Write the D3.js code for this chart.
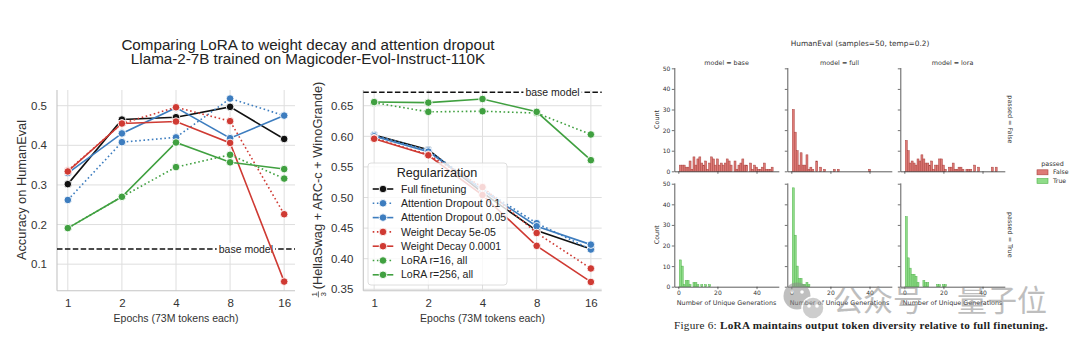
<!DOCTYPE html>
<html>
<head>
<meta charset="utf-8">
<script src="https://cdn.jsdelivr.net/npm/d3@7"></script>
<style>
  body { margin: 0; background: #fff; }
</style>
</head>
<body>
<svg id="fig" width="1080" height="344"></svg>
<script>
const epochs = [1, 2, 4, 8, 16];
const runNames = ["Full finetuning", "Attention Dropout 0.1", "Attention Dropout 0.05",
  "Weight Decay 5e-05", "Weight Decay 0.0001", "LoRA r=16, all", "LoRA r=256, all"];
const runColors = ["#111111", "#3d7dbf", "#3d7dbf", "#cf3a33", "#cf3a33", "#40a040", "#40a040"];
const runDotted = [false, true, false, true, false, true, false];

// HumanEval accuracy per epoch
const heFull     = [0.302, 0.465, 0.471, 0.497, 0.416];
const heAttn01   = [0.262, 0.408, 0.420, 0.518, 0.475];
const heAttn005  = [0.330, 0.430, 0.495, 0.418, 0.475];
const heWd5e5    = [0.336, 0.455, 0.496, 0.461, 0.226];
const heWd1e4    = [0.334, 0.455, 0.460, 0.406, 0.056];
const heLora16   = [0.191, 0.270, 0.345, 0.376, 0.316];
const heLora256  = [0.191, 0.270, 0.407, 0.357, 0.340];
const heBase = 0.138;
const heTicks = [0.1, 0.2, 0.3, 0.4, 0.5];

// mean of HellaSwag, ARC-c and WinoGrande per epoch
const avgFull    = [0.602, 0.578, 0.508, 0.446, 0.416];
const avgAttn01  = [0.602, 0.577, 0.514, 0.458, 0.415];
const avgAttn005 = [0.600, 0.575, 0.512, 0.453, 0.423];
const avgWd5e5   = [0.597, 0.570, 0.517, 0.442, 0.384];
const avgWd1e4   = [0.596, 0.569, 0.504, 0.421, 0.362];
const avgLora16  = [0.655, 0.640, 0.641, 0.638, 0.603];
const avgLora256 = [0.656, 0.655, 0.661, 0.640, 0.561];
const avgBase = 0.672;
const avgTicks = [0.35, 0.40, 0.45, 0.50, 0.55, 0.60, 0.65];

// unique-generation histograms, index 0 = 1 unique generation
const baseFalse = [3,3,3,2,2,5,1,7,3,6,7,4,3,5,1,4,7,6,3,6,3,4,3,4,6,5,3,0,5,1,3,4,6,3,3,0,4,1,3,2,1,1,2,4,1,1,1,2];
const fullFalse = [30,19,10,3,9,3,3,8,1,2,1,0,5,0,2,0,1,0,0,0,0,1,0,1,0,0,0,0,0,0,0,0,0,0,0,0,0,0,0,1];
const loraFalse = [15,10,4,5,4,3,6,5,8,6,4,4,3,5,1,3,3,6,6,3,1,0,2,2,4,1,1,2,2,1,0,1,1,1,0,3,0,2,0,0,0,0,0,0,2,0,2];
const baseTrue  = [13,10,1,3,3,1,0,2,2,1,0,1,0,1,0,1];
const fullTrue  = [48,25,10,4,4,1,1,2,1];
const loraTrue  = [34,14,9,6,6,5,2,0,0,3,2,2,0,0,0,0,1,1,0,1,1];
const modelNames = ["base", "full", "lora"];
const passedNames = ["False", "True"];
const histTicksY = [0, 10, 20, 30, 40, 50];
const histTicksX = [0, 20, 40];

const svg = d3.select("#fig");
const sans = "'Liberation Sans', Arial, sans-serif";
const dejavu = "'DejaVu Sans', sans-serif";

function lineChart(cfg) {
  const g = svg.append("g");
  const x = d3.scaleLog().base(2)
    .domain([Math.pow(2, -0.2), Math.pow(2, 4.2)])
    .range([cfg.left, cfg.right]);
  const y = d3.scaleLinear().domain(cfg.yDomain).range([cfg.bottom, cfg.top]);

  // grid
  g.selectAll(".vgrid").data(epochs).join("line")
    .attr("x1", d => x(d)).attr("x2", d => x(d))
    .attr("y1", cfg.top).attr("y2", cfg.bottom)
    .attr("stroke", "#dedede").attr("stroke-width", 1);
  g.selectAll(".hgrid").data(cfg.ticks).join("line")
    .attr("x1", cfg.left).attr("x2", cfg.right)
    .attr("y1", d => y(d)).attr("y2", d => y(d))
    .attr("stroke", "#dedede").attr("stroke-width", 1);

  g.append("line").attr("x1", cfg.left).attr("x2", cfg.left)
    .attr("y1", cfg.top).attr("y2", cfg.bottom).attr("stroke", "#c4c4c4").attr("stroke-width", 1.1);
  g.append("line").attr("x1", cfg.left).attr("x2", cfg.right)
    .attr("y1", cfg.bottom).attr("y2", cfg.bottom).attr("stroke", "#c4c4c4").attr("stroke-width", 1.1);

  const ay = g.append("g").attr("transform", `translate(${cfg.left},0)`)
    .call(d3.axisLeft(y).tickValues(cfg.ticks).tickFormat(cfg.fmt).tickSize(0).tickPadding(10));
  ay.select(".domain").remove();
  ay.selectAll("text").attr("font-family", sans).attr("font-size", 11.5).attr("fill", "#333");

  const ax = g.append("g").attr("transform", `translate(0,${cfg.bottom})`)
    .call(d3.axisBottom(x).tickValues(epochs).tickFormat(d3.format("d")).tickSize(0).tickPadding(8));
  ax.select(".domain").remove();
  ax.selectAll("text").attr("font-family", sans).attr("font-size", 11.5).attr("fill", "#333");

  g.append("text")
    .attr("x", (cfg.left + cfg.right) / 2).attr("y", cfg.bottom + 31)
    .attr("text-anchor", "middle").attr("font-family", sans).attr("font-size", 10.5)
    .attr("fill", "#333").text("Epochs (73M tokens each)");

  // base model reference
  g.append("line").attr("x1", cfg.left).attr("x2", cfg.right)
    .attr("y1", y(cfg.base)).attr("y2", y(cfg.base))
    .attr("stroke", "#111").attr("stroke-width", 1.5).attr("stroke-dasharray", "5.5,2.4");
  const bg = g.append("g");
  const bgRect = bg.append("rect").attr("fill", "#fff");
  const bl = bg.append("text")
    .attr("x", cfg.right - 22).attr("y", y(cfg.base))
    .attr("dy", "0.35em").attr("text-anchor", "end")
    .attr("font-family", sans).attr("font-size", 10.5).attr("fill", "#222")
    .text("base model");
  const bb = bl.node().getBBox();
  bgRect.attr("x", bb.x - 2).attr("y", bb.y).attr("width", bb.width + 4).attr("height", bb.height);

  const line = d3.line().x((d, i) => x(epochs[i])).y(d => y(d));
  cfg.runs.forEach((vals, k) => {
    g.append("path").attr("d", line(vals)).attr("fill", "none")
      .attr("stroke", runColors[k]).attr("stroke-width", 1.6)
      .attr("stroke-dasharray", runDotted[k] ? "1.6,2.6" : null);
    g.append("g").selectAll("circle").data(vals).join("circle")
      .attr("cx", (d, i) => x(epochs[i])).attr("cy", d => y(d)).attr("r", 3.8)
      .attr("fill", runColors[k]).attr("stroke", "#fff").attr("stroke-width", 0.9);
  });
  return g;
}

lineChart({
  left: 57, right: 295, top: 90, bottom: 290.7,
  yDomain: [0.033, 0.5396], ticks: heTicks, fmt: d3.format(".1f"), base: heBase,
  runs: [heFull, heAttn01, heAttn005, heWd5e5, heWd1e4, heLora16, heLora256]
});
lineChart({
  left: 363.3, right: 601.7, top: 90, bottom: 290.7,
  yDomain: [0.3477, 0.6757], ticks: avgTicks, fmt: d3.format(".2f"), base: avgBase,
  runs: [avgFull, avgAttn01, avgAttn005, avgWd5e5, avgWd1e4, avgLora16, avgLora256]
});

// title
svg.append("text").attr("x", 308).attr("y", 50).attr("text-anchor", "middle")
  .attr("font-family", sans).attr("font-size", 15.2).attr("fill", "#222")
  .text("Comparing LoRA to weight decay and attention dropout");
svg.append("text").attr("x", 308).attr("y", 63.5).attr("text-anchor", "middle")
  .attr("font-family", sans).attr("font-size", 15.2).attr("fill", "#222")
  .text("Llama-2-7B trained on Magicoder-Evol-Instruct-110K");

// y labels
svg.append("text").attr("transform", "translate(26,190) rotate(-90)")
  .attr("text-anchor", "middle").attr("font-family", sans).attr("font-size", 12.8)
  .attr("fill", "#333").text("Accuracy on HumanEval");

const yl = svg.append("g").attr("transform", "translate(322,190) rotate(-90)")
  .attr("font-family", sans).attr("fill", "#333");
const ylMain = yl.append("text").attr("font-size", 12.8).attr("y", 0)
  .text("(HellaSwag + ARC-c + WinoGrande)");
const mainW = ylMain.node().getComputedTextLength();
const fracW = 8;
const start = -(mainW + fracW + 1) / 2;
ylMain.attr("x", start + fracW + 1);
yl.append("text").attr("x", start + fracW / 2).attr("y", -5).attr("text-anchor", "middle")
  .attr("font-size", 8).text("1");
yl.append("text").attr("x", start + fracW / 2).attr("y", 4).attr("text-anchor", "middle")
  .attr("font-size", 8).text("3");
yl.append("line").attr("x1", start + 1).attr("x2", start + fracW - 1)
  .attr("y1", -3.6).attr("y2", -3.6).attr("stroke", "#333").attr("stroke-width", 0.7);

// legend on the benchmark panel
const lg = svg.append("g");
lg.append("rect").attr("x", 368).attr("y", 163).attr("width", 139).attr("height", 122)
  .attr("rx", 3).attr("fill", "#fff").attr("fill-opacity", 0.8)
  .attr("stroke", "#d6d6d6").attr("stroke-width", 0.8);
lg.append("text").attr("x", 437).attr("y", 177).attr("text-anchor", "middle")
  .attr("font-family", sans).attr("font-size", 12.6).attr("fill", "#222").text("Regularization");
runNames.forEach((name, k) => {
  const yy = 189 + k * 14.3;
  lg.append("line").attr("x1", 372.7).attr("x2", 393.3).attr("y1", yy).attr("y2", yy)
    .attr("stroke", runColors[k]).attr("stroke-width", 1.6)
    .attr("stroke-dasharray", runDotted[k] ? "1.6,2.6" : null);
  lg.append("circle").attr("cx", 383).attr("cy", yy).attr("r", 3.8)
    .attr("fill", runColors[k]).attr("stroke", "#fff").attr("stroke-width", 0.9);
  lg.append("text").attr("x", 401).attr("y", yy).attr("dy", "0.35em")
    .attr("font-family", sans).attr("font-size", 10.5).attr("fill", "#222").text(name);
});

// facet grid of histograms
const histCounts = [[baseFalse, fullFalse, loraFalse], [baseTrue, fullTrue, loraTrue]];
const histFill = ["#de7a76", "#8fdc89"];
const histEdge = ["#a9423e", "#52b34c"];
const colX0 = [674.3, 787.3, 900.3];
const colW = 104.5;
const rowBottom = [171.3, 286.7];
const rowH = 103.8;

histCounts.forEach((row, r) => {
  row.forEach((counts, c) => {
    const x0 = colX0[c];
    const hx = d3.scaleLinear().domain([-2.06, 51.4]).range([x0, x0 + colW]);
    const hy = d3.scaleLinear().domain([0, 50.4]).range([rowBottom[r], rowBottom[r] - rowH]);
    const g = svg.append("g");
    const bins = counts.map((n, i) => ({ v: i + 1, n })).filter(d => d.n > 0);
    g.selectAll("rect").data(bins).join("rect")
      .attr("x", d => hx(d.v - 0.5)).attr("width", d => hx(d.v + 0.5) - hx(d.v - 0.5))
      .attr("y", d => hy(d.n)).attr("height", d => hy(0) - hy(d.n))
      .attr("fill", histFill[r]).attr("stroke", histEdge[r]).attr("stroke-width", 0.5);

    const ay = g.append("g").attr("transform", `translate(${x0},0)`)
      .call(d3.axisLeft(hy).tickValues(histTicksY).tickSizeInner(2.5).tickSizeOuter(0).tickPadding(1.5)
        .tickFormat(c === 0 ? d3.format("d") : () => ""));
    const ax = g.append("g").attr("transform", `translate(0,${rowBottom[r]})`)
      .call(d3.axisBottom(hx).tickValues(histTicksX).tickSizeInner(2.5).tickSizeOuter(0).tickPadding(1.5)
        .tickFormat(r === 1 ? d3.format("d") : () => ""));
    [ay, ax].forEach(a => {
      a.select(".domain").attr("stroke", "#333").attr("stroke-width", 0.8);
      a.selectAll(".tick line").attr("stroke", "#333").attr("stroke-width", 0.7);
      a.selectAll("text").attr("font-family", dejavu).attr("font-size", 6).attr("fill", "#333");
    });

    if (r === 0) {
      svg.append("text").attr("x", x0 + colW / 2).attr("y", 64.5).attr("text-anchor", "middle")
        .attr("font-family", dejavu).attr("font-size", 6.4).attr("fill", "#333")
        .text("model = " + modelNames[c]);
    } else {
      svg.append("text").attr("x", x0 + colW / 2).attr("y", 304.5).attr("text-anchor", "middle")
        .attr("font-family", dejavu).attr("font-size", 6.4).attr("fill", "#333")
        .text("Number of Unique Generations");
    }
  });
  const midY = rowBottom[r] - rowH / 2;
  svg.append("text").attr("transform", `translate(657,${midY}) rotate(-90)`)
    .attr("text-anchor", "middle").attr("dy", "0.35em")
    .attr("font-family", dejavu).attr("font-size", 6.4).attr("fill", "#333").text("Count");
  svg.append("text").attr("transform", `translate(1010,${midY}) rotate(90)`)
    .attr("text-anchor", "middle").attr("dy", "0.35em")
    .attr("font-family", dejavu).attr("font-size", 6.4).attr("fill", "#333")
    .text("passed = " + passedNames[r]);
});

svg.append("text").attr("x", 860).attr("y", 46).attr("text-anchor", "middle")
  .attr("font-family", dejavu).attr("font-size", 7.4).attr("fill", "#333")
  .text("HumanEval (samples=50, temp=0.2)");

// hue legend
svg.append("text").attr("x", 1052.5).attr("y", 166).attr("text-anchor", "middle")
  .attr("font-family", dejavu).attr("font-size", 6.4).attr("fill", "#333").text("passed");
passedNames.forEach((p, k) => {
  const yy = 172.3 + k * 8.7;
  svg.append("rect").attr("x", 1037).attr("y", yy - 2.5).attr("width", 11).attr("height", 5)
    .attr("fill", histFill[k]).attr("stroke", histEdge[k]).attr("stroke-width", 0.6);
  svg.append("text").attr("x", 1053).attr("y", yy).attr("dy", "0.35em")
    .attr("font-family", dejavu).attr("font-size", 6.2).attr("fill", "#333").text(p);
});

// caption
const cap = svg.append("text").attr("x", 861).attr("y", 328.5).attr("text-anchor", "middle")
  .attr("font-family", "'Liberation Serif', 'DejaVu Serif', serif").attr("font-size", 11.2)
  .attr("letter-spacing", 0.25).attr("fill", "#222");
cap.append("tspan").text("Figure 6: ");
cap.append("tspan").attr("font-weight", "bold")
  .text("LoRA maintains output token diversity relative to full finetuning.");

// account watermark
const wm = svg.append("g").attr("opacity", 0.55);
wm.append("circle").attr("cx", 797).attr("cy", 296).attr("r", 13.5).attr("fill", "#8c8c8c");
wm.append("circle").attr("cx", 813).attr("cy", 308).attr("r", 11).attr("fill", "#a6a6a6")
  .attr("stroke", "#fff").attr("stroke-width", 1.5);
[[792, 292], [802, 292], [809, 306], [817, 306]].forEach(([cx, cy]) =>
  wm.append("circle").attr("cx", cx).attr("cy", cy).attr("r", 1.8).attr("fill", "#fff"));
wm.append("text").attr("x", 833).attr("y", 311).attr("font-family", "'Noto Sans CJK SC', sans-serif")
  .attr("font-size", 30).attr("fill", "#8a8a8a").text("公众号");
wm.append("text").attr("x", 957).attr("y", 311).attr("font-family", "'Noto Sans CJK SC', sans-serif")
  .attr("font-size", 30).attr("fill", "#8a8a8a").text("量子位");
</script>
</body>
</html>
